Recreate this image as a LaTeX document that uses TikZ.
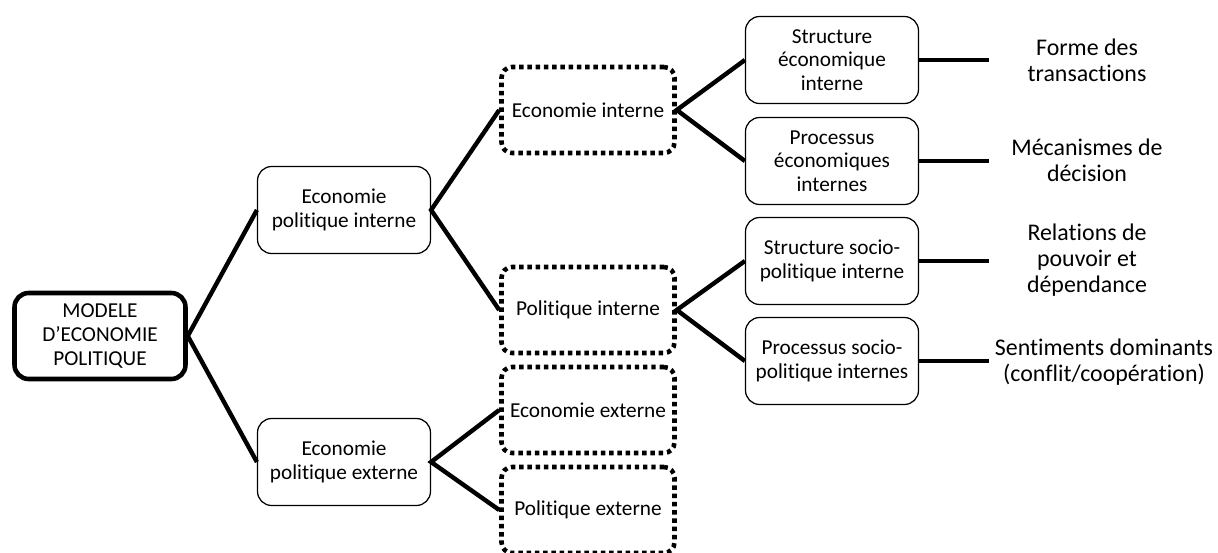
\documentclass[tikz,border=0pt]{standalone}
\usepackage{fontspec}
\setmainfont{Carlito}[Ligatures={NoCommon}]
\usetikzlibrary{positioning}

\tikzset{
  boxtext/.style={align=center, inner sep=1pt, font=\fontsize{12.1}{13.4}\selectfont},
  rootbox/.style={boxtext, draw, line width=2.6pt, rounded corners=8pt, minimum width=3.42cm, minimum height=1.72cm},
  plainbox/.style={boxtext, draw, line width=0.7pt, rounded corners=8pt, minimum width=3.46cm, minimum height=1.74cm},
  dotbox/.style={boxtext, draw, line width=2.6pt, dash pattern=on 2.5pt off 2.2pt, rounded corners=6pt, minimum width=3.46cm, minimum height=1.72cm},
  endtext/.style={align=center, inner sep=1pt, font=\fontsize{13.6}{14.6}\selectfont},
  link/.style={line width=2.5pt}
}

\begin{document}
\begin{tikzpicture}[x=0.02cm, y=-0.02cm]
    \useasboundingbox (0,0) rectangle (1218,552);

    % root and first level
    \node[rootbox] (modele) at (100,336) {MODELE\\D’ECONOMIE\\POLITIQUE};
    \node[plainbox] (epi) at (344,210) {Economie\\politique interne};
    \node[plainbox] (epe) at (344,462) {Economie\\politique externe};

    % second level
    \node[dotbox] (ecoint) at (588,110) {Economie interne};
    \node[dotbox] (polint) at (588,310) {Politique interne};
    \node[dotbox] (ecoext) at (588,410) {Economie externe};
    \node[dotbox] (polext) at (588,510) {Politique externe};

    % third level
    \node[plainbox] (struceco) at (832,60) {Structure\\économique\\interne};
    \node[plainbox] (procecoi) at (832,161) {Processus\\économiques\\internes};
    \node[plainbox] (strucsoc) at (832,261) {Structure socio-\\politique interne};
    \node[plainbox] (procsoc) at (832,361) {Processus socio-\\politique internes};

    % free ends and outcomes
    \coordinate (endA) at (989,60);
    \coordinate (endB) at (989,161);
    \coordinate (endC) at (989,261);
    \coordinate (endD) at (989,361);
    \node[endtext] (forme) at (1087,60) {Forme des\\transactions};
    \node[endtext] (mecan) at (1087,160) {Mécanismes de\\décision};
    \node[endtext] (relat) at (1087,260) {Relations de\\pouvoir et\\dépendance};
    \node[endtext] (senti) at (1104,362) {Sentiments dominants\\(conflit/coopération)};

    \draw[link] (epi.west) -- (modele.east) -- (epe.west);
    \draw[link] (ecoint.west) -- (epi.east) -- (polint.west);
    \draw[link] (ecoext.west) -- (epe.east) -- (polext.west);
    \draw[link] (struceco.west) -- (ecoint.east) -- (procecoi.west);
    \draw[link] (strucsoc.west) -- (polint.east) -- (procsoc.west);

    \draw[link] (struceco.east) -- (endA);
    \draw[link] (procecoi.east) -- (endB);
    \draw[link] (strucsoc.east) -- (endC);
    \draw[link] (procsoc.east) -- (endD);
  \end{tikzpicture}
\end{document}
